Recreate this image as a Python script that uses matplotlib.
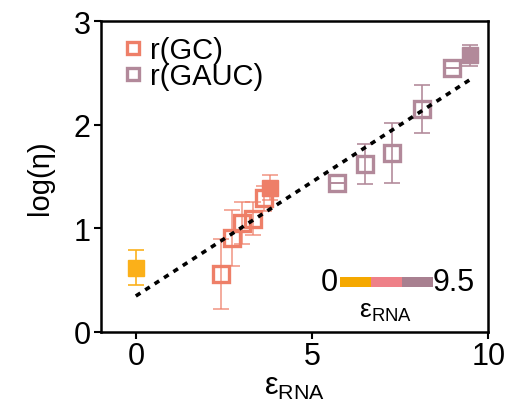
import numpy as np
import matplotlib
matplotlib.use("Agg")
import matplotlib.pyplot as plt

plt.rcParams['font.family'] = ['Liberation Sans', 'DejaVu Sans']
plt.rcParams['mathtext.fontset'] = 'custom'
plt.rcParams['mathtext.rm'] = 'Liberation Sans'

# data
x_ref = [0.0]
y_ref = [0.62]
e_ref = [0.17]

x_gc = [2.43, 2.73, 3.02, 3.32, 3.63]
y_gc = [0.555, 0.91, 1.05, 1.09, 1.29]
e_gc = [0.34, 0.27, 0.20, 0.16, 0.12]
x_gc_end = [3.82]
y_gc_end = [1.39]
e_gc_end = [0.12]

x_gauc = [5.70, 6.49, 7.28, 8.12, 8.97]
y_gauc = [1.44, 1.62, 1.73, 2.15, 2.55]
e_gauc = [0.0, 0.19, 0.29, 0.23, 0.0]
x_gauc_end = [9.49]
y_gauc_end = [2.67]
e_gauc_end = [0.10]

fit_x = [0.0, 9.5]
fit_slope = 0.2205
fit_icpt = 0.345

bar_labels = ["0", "9.5"]

c_orange = "#FBB019"
c_gc = "#EE7F68"
c_gauc = "#B2899A"
bar_colors = ["#F5A800", "#EE8088", "#A88090"]

fig = plt.figure(figsize=(5.08, 4.06), dpi=100)
ax = fig.add_axes([0.198, 0.1805, 0.763, 0.7645])

ms = 12
ekw = dict(ls="none", elinewidth=1.3, capsize=6, capthick=1.3)

# error bars
ax.errorbar(x_ref, y_ref, yerr=e_ref, color=c_orange, alpha=0.9, **ekw)
ax.errorbar(x_gc, y_gc, yerr=e_gc, color=c_gc, alpha=0.7, **ekw)
ax.errorbar(x_gc_end, y_gc_end, yerr=e_gc_end, color=c_gc, alpha=0.7, **ekw)
ax.errorbar(x_gauc, y_gauc, yerr=e_gauc, color=c_gauc, alpha=0.9, **ekw)
ax.errorbar(x_gauc_end, y_gauc_end, yerr=e_gauc_end, color=c_gauc, alpha=0.9, **ekw)

# markers
ax.plot(x_ref, y_ref, "s", ms=ms, color=c_orange, mec=c_orange, zorder=3)
ax.plot(x_gc, y_gc, "s", ms=ms, mfc="none", mec=c_gc, mew=2.4, zorder=3, label="r(GC)")
ax.plot(x_gc_end, y_gc_end, "s", ms=ms, color=c_gc, zorder=3)
ax.plot(x_gauc, y_gauc, "s", ms=ms, mfc="none", mec=c_gauc, mew=2.4, zorder=3, label="r(GAUC)")
ax.plot(x_gauc_end, y_gauc_end, "s", ms=ms, color=c_gauc, zorder=3)

fx = np.array(fit_x)
ax.plot(fx, fit_icpt + fit_slope * fx, color="black", lw=2.6, ls=(0, (1.5, 1.6)), zorder=4)

ax.set_xlim(-1, 10)
ax.set_ylim(0, 3)
ax.set_xticks([0, 5, 10])
ax.set_yticks([0, 1, 2, 3])
ax.tick_params(labelsize=22, width=1.5, length=5, direction="out", pad=2)
for s in ax.spines.values():
    s.set_linewidth(1.8)

ax.set_xlabel(r"ε$_\mathregular{RNA}$", fontsize=22, labelpad=0)
ax.set_ylabel("log(η)", fontsize=21, labelpad=14)

leg = ax.legend(loc="upper left", frameon=False, fontsize=21, handletextpad=0.0,
                handlelength=1.2, borderaxespad=0.1, labelspacing=-0.05,
                markerscale=0.75)

# inset colour key
cax = fig.add_axes([340 / 508, 1 - 288.3 / 406, 93.3 / 508, 10 / 406])
for i, c in enumerate(bar_colors):
    cax.barh(0, 1, left=i, height=1, color=c)
cax.set_xlim(0, 3)
cax.set_ylim(-0.5, 0.5)
cax.axis("off")
fig.text(338 / 508, 1 - 283 / 406, bar_labels[0], fontsize=22, ha="right", va="center")
fig.text(433 / 508, 1 - 283 / 406, bar_labels[1], fontsize=22, ha="left", va="center")
fig.text(385 / 508, 1 - 312 / 406, r"ε$_\mathregular{RNA}$", fontsize=19, ha="center", va="center")

fig.savefig("out.png", dpi=100)
